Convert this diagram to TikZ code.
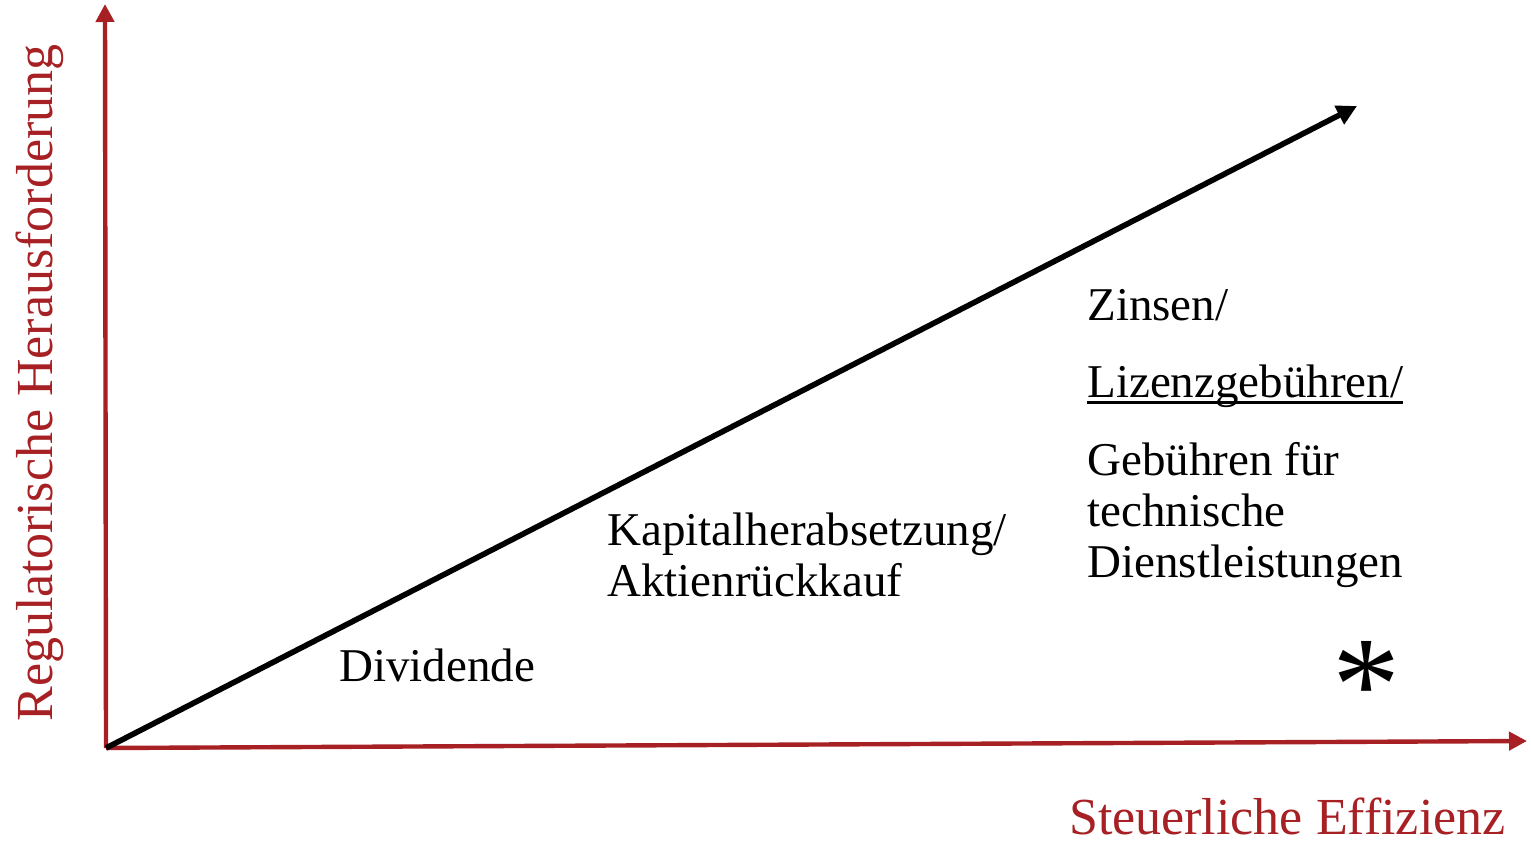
\documentclass[tikz,border=0pt]{standalone}
\usepackage{fontspec}
\setmainfont{Liberation Serif}
\usetikzlibrary{arrows.meta,positioning}
\definecolor{axisred}{RGB}{166,32,36}
\newcommand\thickul[1]{\leavevmode\setbox0=\hbox{#1}\rlap{\rule[-3.6pt]{\wd0}{1.4pt}}\box0}

\begin{document}
\begin{tikzpicture}[x=0.5pt,y=-0.5pt,
    axis/.style={draw=axisred,line width=2.2pt,-{Triangle[length=9pt,width=9pt]}},
    trend/.style={draw=black,line width=2.8pt,-{Triangle[length=10pt,width=10pt]}},
    lbl/.style={inner sep=0pt,anchor=base west,align=left,font=\fontsize{23.5}{25.5}\selectfont},
    axislbl/.style={inner sep=0pt,text=axisred,font=\fontsize{26}{30}\selectfont}]
  \useasboundingbox (0,0) rectangle (1531,841);
  % axes
  \coordinate (o) at (106,748);
  \coordinate (ytop) at (105,4);
  \coordinate (xend) at (1527,741);
  \coordinate (tend) at (1357,106);
  \draw[axis] (o) -- (ytop);
  \draw[axis] (o) -- (xend);
  \draw[trend] (o) -- (tend);
  \node[axislbl,rotate=90,anchor=base] (ylbl) at (52,383) {Regulatorische Herausforderung};
  \node[axislbl,anchor=base east] (xlbl) at (1506,834) {Steuerliche Effizienz};
  % labels (base = last line)
  \node[lbl] (div) at (339,681) {Dividende};
  \node[lbl] (kap) at (607,596) {Kapitalherabsetzung/\\Aktienrückkauf};
  \node[lbl] (zins) at (1087,320) {Zinsen/};
  \node[lbl] (liz) at (1087,397) {\thickul{Lizenzgebühren/}};
  \node[lbl] (geb) at (1087,577) {Gebühren für\\technische\\Dienstleistungen};
  \node[inner sep=0pt,font=\fontsize{68}{68}\selectfont] (ast) at (1366,686) {*};
\end{tikzpicture}
\end{document}
